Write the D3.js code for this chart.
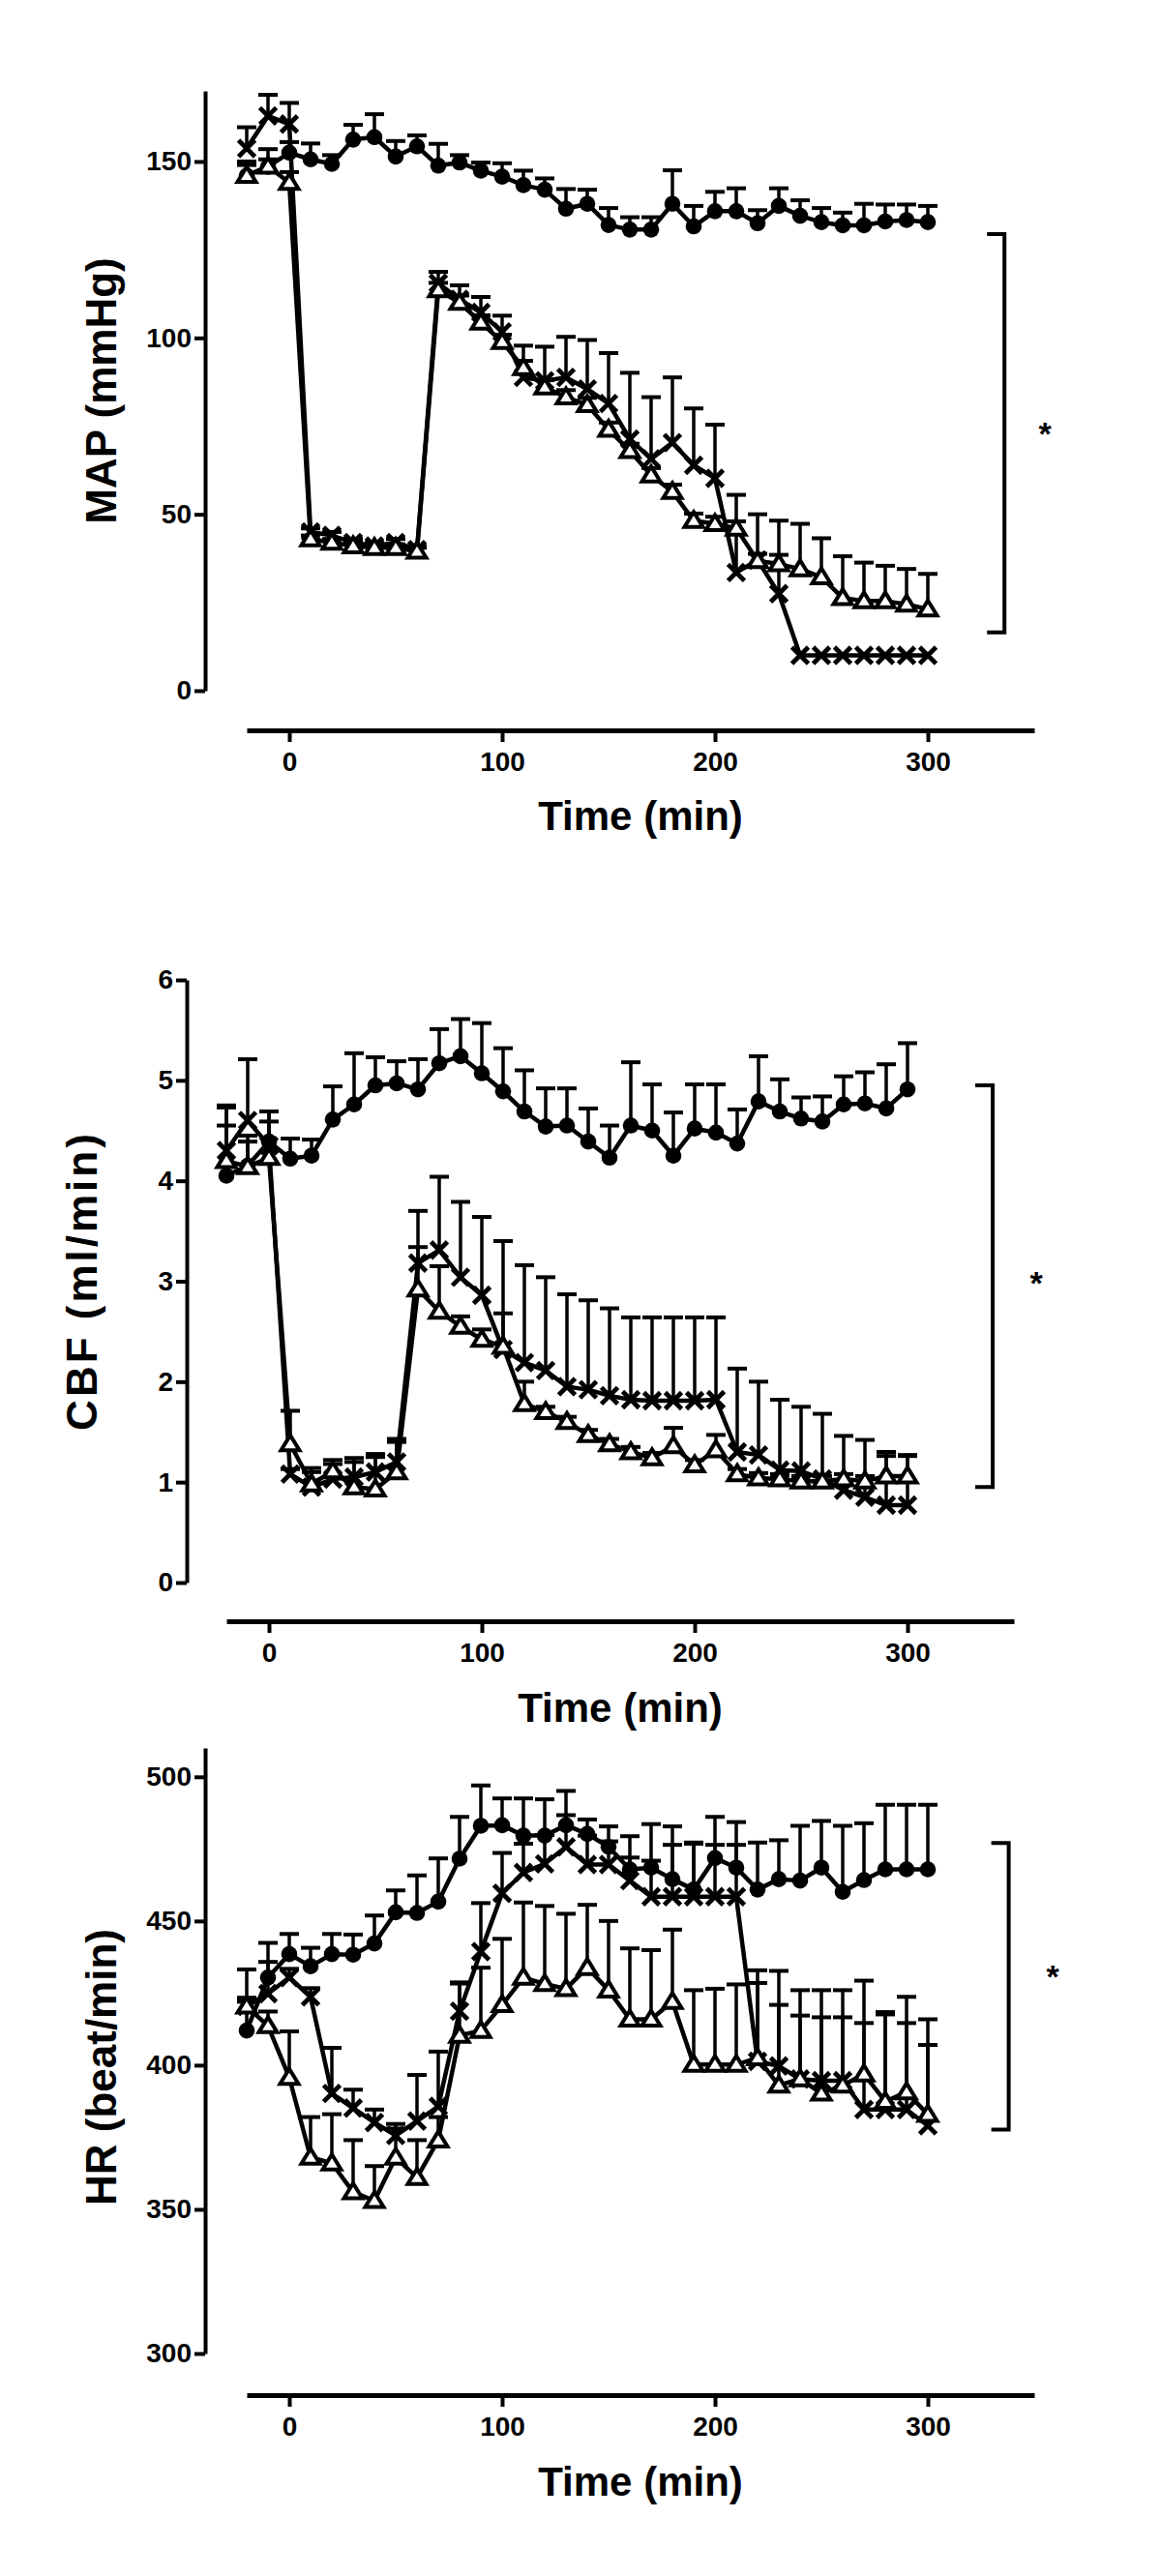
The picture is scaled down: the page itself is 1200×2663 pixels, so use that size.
<!DOCTYPE html>
<html><head><meta charset="utf-8">
<script src="https://cdn.jsdelivr.net/npm/d3@7"></script>
<style>
body{margin:0;background:#fff}
svg{display:block}
text{font-family:"Liberation Sans",Arial,sans-serif;font-weight:bold;fill:#000}
</style>
</head><body>
<svg id="c" width="1200" height="2663"></svg>
<script>
// ---------- DATA ----------
const times = [-20,-10,0,10,20,30,40,50,60,70,80,90,100,110,120,130,140,150,160,170,180,190,200,210,220,230,240,250,260,270,280,290,300];
const xTicks = [0,100,200,300];

// MAP (mmHg)
const mapTicks = [0,50,100,150];
const mapCtrl = [146,148.5,152.5,150.6,149.3,156.2,156.9,151.4,154.3,148.8,149.7,147.4,145.7,143.3,142,136.6,138,132,130.7,130.7,138,131.6,135.9,135.9,132.5,137.4,134.6,132.8,131.9,131.9,133,133.4,132.8];
const mapCtrlErr = [4,5,3,4.5,2.5,4.2,6.5,4.4,3.1,6.2,2.1,2.3,3.8,4.1,3.2,5.6,4,4.8,3.5,3.5,9.5,5.8,5.5,6.5,3.7,5,4.4,4,3.6,6.1,4.8,4.4,4.6];
const mapX = [153.7,162.9,160.6,45,44,42,41,42,40,115.5,110.9,107.2,101.7,88.8,87.8,88.8,85.5,81.4,71.3,65.7,70.3,63.9,60.2,33.5,37,27.5,10,10,10,10,10,10,10];
const mapXErr = [6,6,6,1,1,1,1,1,1,3.2,4,4.4,4.6,9,9.7,11.5,13.9,14.3,18.8,17.5,18.5,16.1,15.2,22,13,20.7,0,0,0,0,0,0,0];
const mapTri = [146,148.6,144,43,42,41,40.5,40.5,39.5,113.6,110,104.4,98.9,91.5,86,83.2,81,74,68,61.1,56.4,48.2,47.3,46,36.8,35.9,34.5,32.2,26.3,25.4,25.4,24.5,23.1];
const mapTriErr = [3,2,3,1,1,1,1,1,1,2,2,2,2,2,2,2,2,2,2,2,2,2,2,2,2,2.6,12.8,11,11.8,10.9,10,10,10];

// CBF (ml/min)
const cbfTicks = [0,1,2,3,4,5,6];
const cbfCtrl = [4.05,4.15,4.39,4.22,4.25,4.61,4.76,4.95,4.97,4.91,5.17,5.24,5.07,4.89,4.69,4.54,4.55,4.39,4.23,4.55,4.5,4.25,4.52,4.48,4.37,4.79,4.69,4.62,4.59,4.76,4.77,4.72,4.91];
const cbfCtrlErr = [0.5,0.3,0.3,0.2,0.16,0.33,0.51,0.28,0.22,0.3,0.34,0.37,0.5,0.43,0.41,0.38,0.37,0.33,0.32,0.63,0.46,0.43,0.44,0.48,0.34,0.45,0.32,0.21,0.25,0.28,0.31,0.44,0.46];
const cbfX = [4.3,4.6,4.35,1.08,0.95,1.03,1.05,1.1,1.2,3.18,3.31,3.04,2.86,2.32,2.19,2.11,1.95,1.92,1.86,1.82,1.81,1.81,1.81,1.82,1.3,1.27,1.12,1.11,1.03,0.92,0.85,0.77,0.77];
const cbfXErr = [0.45,0.61,0.34,0.05,0.15,0.15,0.15,0.15,0.2,0.52,0.73,0.75,0.78,1.08,0.97,0.93,0.92,0.89,0.87,0.82,0.83,0.83,0.83,0.82,0.83,0.73,0.7,0.64,0.65,0.54,0.57,0.53,0.5];
const cbfTri = [4.2,4.14,4.23,1.38,0.98,1.11,0.95,0.93,1.1,2.92,2.7,2.55,2.42,2.35,1.78,1.7,1.6,1.47,1.38,1.3,1.24,1.36,1.17,1.32,1.08,1.04,1.03,1.01,1.01,1.03,1.01,1.06,1.06];
const cbfTriErr = [0.53,0.25,0.36,0.33,0.16,0.11,0.29,0.35,0.33,0.42,0.45,0.1,0.1,0.33,0.22,0.05,0.05,0.05,0.05,0.05,0.05,0.18,0.05,0.15,0.05,0.05,0.05,0.05,0.05,0.05,0.05,0.2,0.2];

// HR (beat/min)
const hrTicks = [300,350,400,450,500];
const hrCtrl = [412,430.4,438.5,434.3,438.5,438.3,442.2,453,452.8,456.7,471.6,483,483.2,479.6,479.6,483.2,480.2,475.7,467.9,468.5,464.5,460.9,471.8,468.5,460.9,464.5,464,468.5,460.1,464.2,467.9,467.9,467.9];
const hrCtrlErr = [10,12,7,6.4,7,7,9.7,7.6,13,15,14.5,14,9.3,12.9,12.6,11.9,5,7.1,11.5,15.1,18.3,16.3,14.3,15.8,16.3,13.5,19,16.2,22.9,19.7,22.4,22.4,22.4];
const hrX = [420.4,424.8,430.4,423.7,390.2,385.1,380.1,375.6,380.6,385.7,418.7,439.4,459.6,466.8,469.8,475.7,469.6,469.6,464,458.4,458.4,458.4,458.4,458.4,401.3,399.7,395.2,394.6,394.6,384.6,384.6,384.6,379];
const hrXErr = [12.8,11,3,3,15.8,6.4,4.5,4,16,19,10,16.8,14,10,10,11,10,8,8,12.5,18,18.4,18,18,31.6,33,22,22,22,30,33,30,28];
const hrTri = [420.4,413.6,395.7,368,366,356,353,368,361,374,410.3,412,420.9,430.4,428.2,426.5,433.8,426,415.9,415.9,422,400.2,400.2,400.2,402.5,393,395.2,390.2,393,396.9,387.4,390.7,382.9];
const hrTriErr = [3,5,16,14,17,18,12,10,13,8,18,21.8,22.9,26,27,26,21.8,24,24.6,24,25,25.8,26.3,27.8,26,27.9,30.8,35.8,33,32.4,31,33,33];

// ---------- DRAWING ----------
const svg = d3.select("#c");

function drawPanel(cfg){
  const x = d3.scaleLinear().domain([-20,350]).range(cfg.xRange);
  const y = d3.scaleLinear().domain(cfg.yDomain).range(cfg.yRange);
  const g = svg.append("g");

  // y axis
  const ya = g.append("g").attr("transform",`translate(${cfg.yAxisX},0)`)
    .call(d3.axisLeft(y).tickValues(cfg.yTicks).tickSize(11).tickSizeOuter(0).tickPadding(3).tickFormat(d3.format("d")));
  ya.select(".domain").attr("stroke","#000").attr("stroke-width",4);
  ya.selectAll(".tick line").attr("stroke","#000").attr("stroke-width",4);
  ya.selectAll(".tick text").attr("font-size",28).attr("font-family",'"Liberation Sans",Arial,sans-serif').attr("font-weight","bold").attr("fill","#000");

  // x axis (offset)
  const xa = g.append("g").attr("transform",`translate(0,${cfg.xAxisY})`)
    .call(d3.axisBottom(x).tickValues(xTicks).tickSize(12).tickSizeOuter(0).tickPadding(10).tickFormat(d3.format("d")));
  xa.select(".domain").attr("stroke","#000").attr("stroke-width",5);
  xa.selectAll(".tick line").attr("stroke","#000").attr("stroke-width",4);
  xa.selectAll(".tick text").attr("font-size",28).attr("font-family",'"Liberation Sans",Arial,sans-serif').attr("font-weight","bold").attr("fill","#000");

  // titles
  g.append("text").attr("x",(cfg.xRange[0]+cfg.xRange[1])/2).attr("y",cfg.xTitleY)
    .attr("text-anchor","middle").attr("font-size",42).text("Time (min)");
  g.append("text").attr("transform",`translate(${cfg.yTitleX},${cfg.yTitleY}) rotate(-90)`)
    .attr("text-anchor","middle").attr("font-size",44).attr("letter-spacing",cfg.ls||0).text(cfg.yTitle);

  const series = cfg.series;
  const line = d3.line().x((d,i)=>x(times[i])).y(d=>y(d));
  // lines
  series.forEach(s=>{
    g.append("path").datum(s.v).attr("d",line).attr("fill","none")
      .attr("stroke","#000").attr("stroke-width",4.5).attr("stroke-linejoin","round");
  });
  // error bars (upper only)
  series.forEach(s=>{
    const eb = g.append("g");
    s.v.forEach((v,i)=>{
      const e = s.e[i]; if(!e) return;
      const cx = x(times[i]), y0 = y(v), y1 = y(v+e);
      eb.append("line").attr("x1",cx).attr("x2",cx).attr("y1",y0).attr("y2",y1).attr("stroke","#000").attr("stroke-width",3.5);
      eb.append("line").attr("x1",cx-10).attr("x2",cx+10).attr("y1",y1).attr("y2",y1).attr("stroke","#000").attr("stroke-width",4);
    });
  });
  // markers
  series.forEach(s=>{
    const mg = g.append("g");
    s.v.forEach((v,i)=>{
      const cx = x(times[i]), cy = y(v);
      if(s.m==="circle"){
        mg.append("circle").attr("cx",cx).attr("cy",cy).attr("r",8.3).attr("fill","#000");
      } else if(s.m==="x"){
        const r=8.5;
        mg.append("path").attr("d",`M${cx-r},${cy-r}L${cx+r},${cy+r}M${cx-r},${cy+r}L${cx+r},${cy-r}`)
          .attr("stroke","#000").attr("stroke-width",4.8).attr("fill","none");
      } else {
        mg.append("path").attr("d",`M${cx},${cy-9}L${cx+9.5},${cy+6.5}L${cx-9.5},${cy+6.5}Z`)
          .attr("stroke","#000").attr("stroke-width",4).attr("fill","#fff").attr("stroke-linejoin","miter");
      }
    });
  });

  // significance bracket
  const bx = x(cfg.bracket[0]), bt = y(cfg.bracket[2]), bb = y(cfg.bracket[1]);
  g.append("path").attr("d",`M${bx-18},${bt}H${bx}V${bb}H${bx-18}`).attr("fill","none")
    .attr("stroke","#000").attr("stroke-width",4);
  g.append("text").attr("x",cfg.starX).attr("y",cfg.starY).attr("text-anchor","middle")
    .attr("dominant-baseline","central").attr("font-size",34).text("*");
}

drawPanel({
  xRange:[255,1069], yDomain:[0,170], yRange:[714,94], yTicks:mapTicks, yAxisX:212, xAxisY:755,
  xTitleY:858, yTitleX:120, yTitleY:404, yTitle:"MAP (mmHg)",
  series:[{v:mapCtrl,e:mapCtrlErr,m:"circle"},{v:mapX,e:mapXErr,m:"x"},{v:mapTri,e:mapTriErr,m:"tri"}],
  bracket:[336,16.5,129.4], starX:1080, starY:448
});
drawPanel({
  xRange:[234,1048], yDomain:[0,6], yRange:[1636,1013], yTicks:cbfTicks, yAxisX:193, xAxisY:1676,
  xTitleY:1780, yTitleX:100, yTitleY:1324, yTitle:"CBF (ml/min)", ls:3,
  series:[{v:cbfCtrl,e:cbfCtrlErr,m:"circle"},{v:cbfX,e:cbfXErr,m:"x"},{v:cbfTri,e:cbfTriErr,m:"tri"}],
  bracket:[340,0.95,4.95], starX:1071, starY:1326
});
drawPanel({
  xRange:[255,1069], yDomain:[300,510], yRange:[2433,1807], yTicks:hrTicks, yAxisX:212, xAxisY:2476,
  xTitleY:2580, yTitleX:120, yTitleY:2137, yTitle:"HR (beat/min)",
  series:[{v:hrCtrl,e:hrCtrlErr,m:"circle"},{v:hrX,e:hrXErr,m:"x"},{v:hrTri,e:hrTriErr,m:"tri"}],
  bracket:[338,377.7,477], starX:1088, starY:2043
});
</script>
</body></html>
